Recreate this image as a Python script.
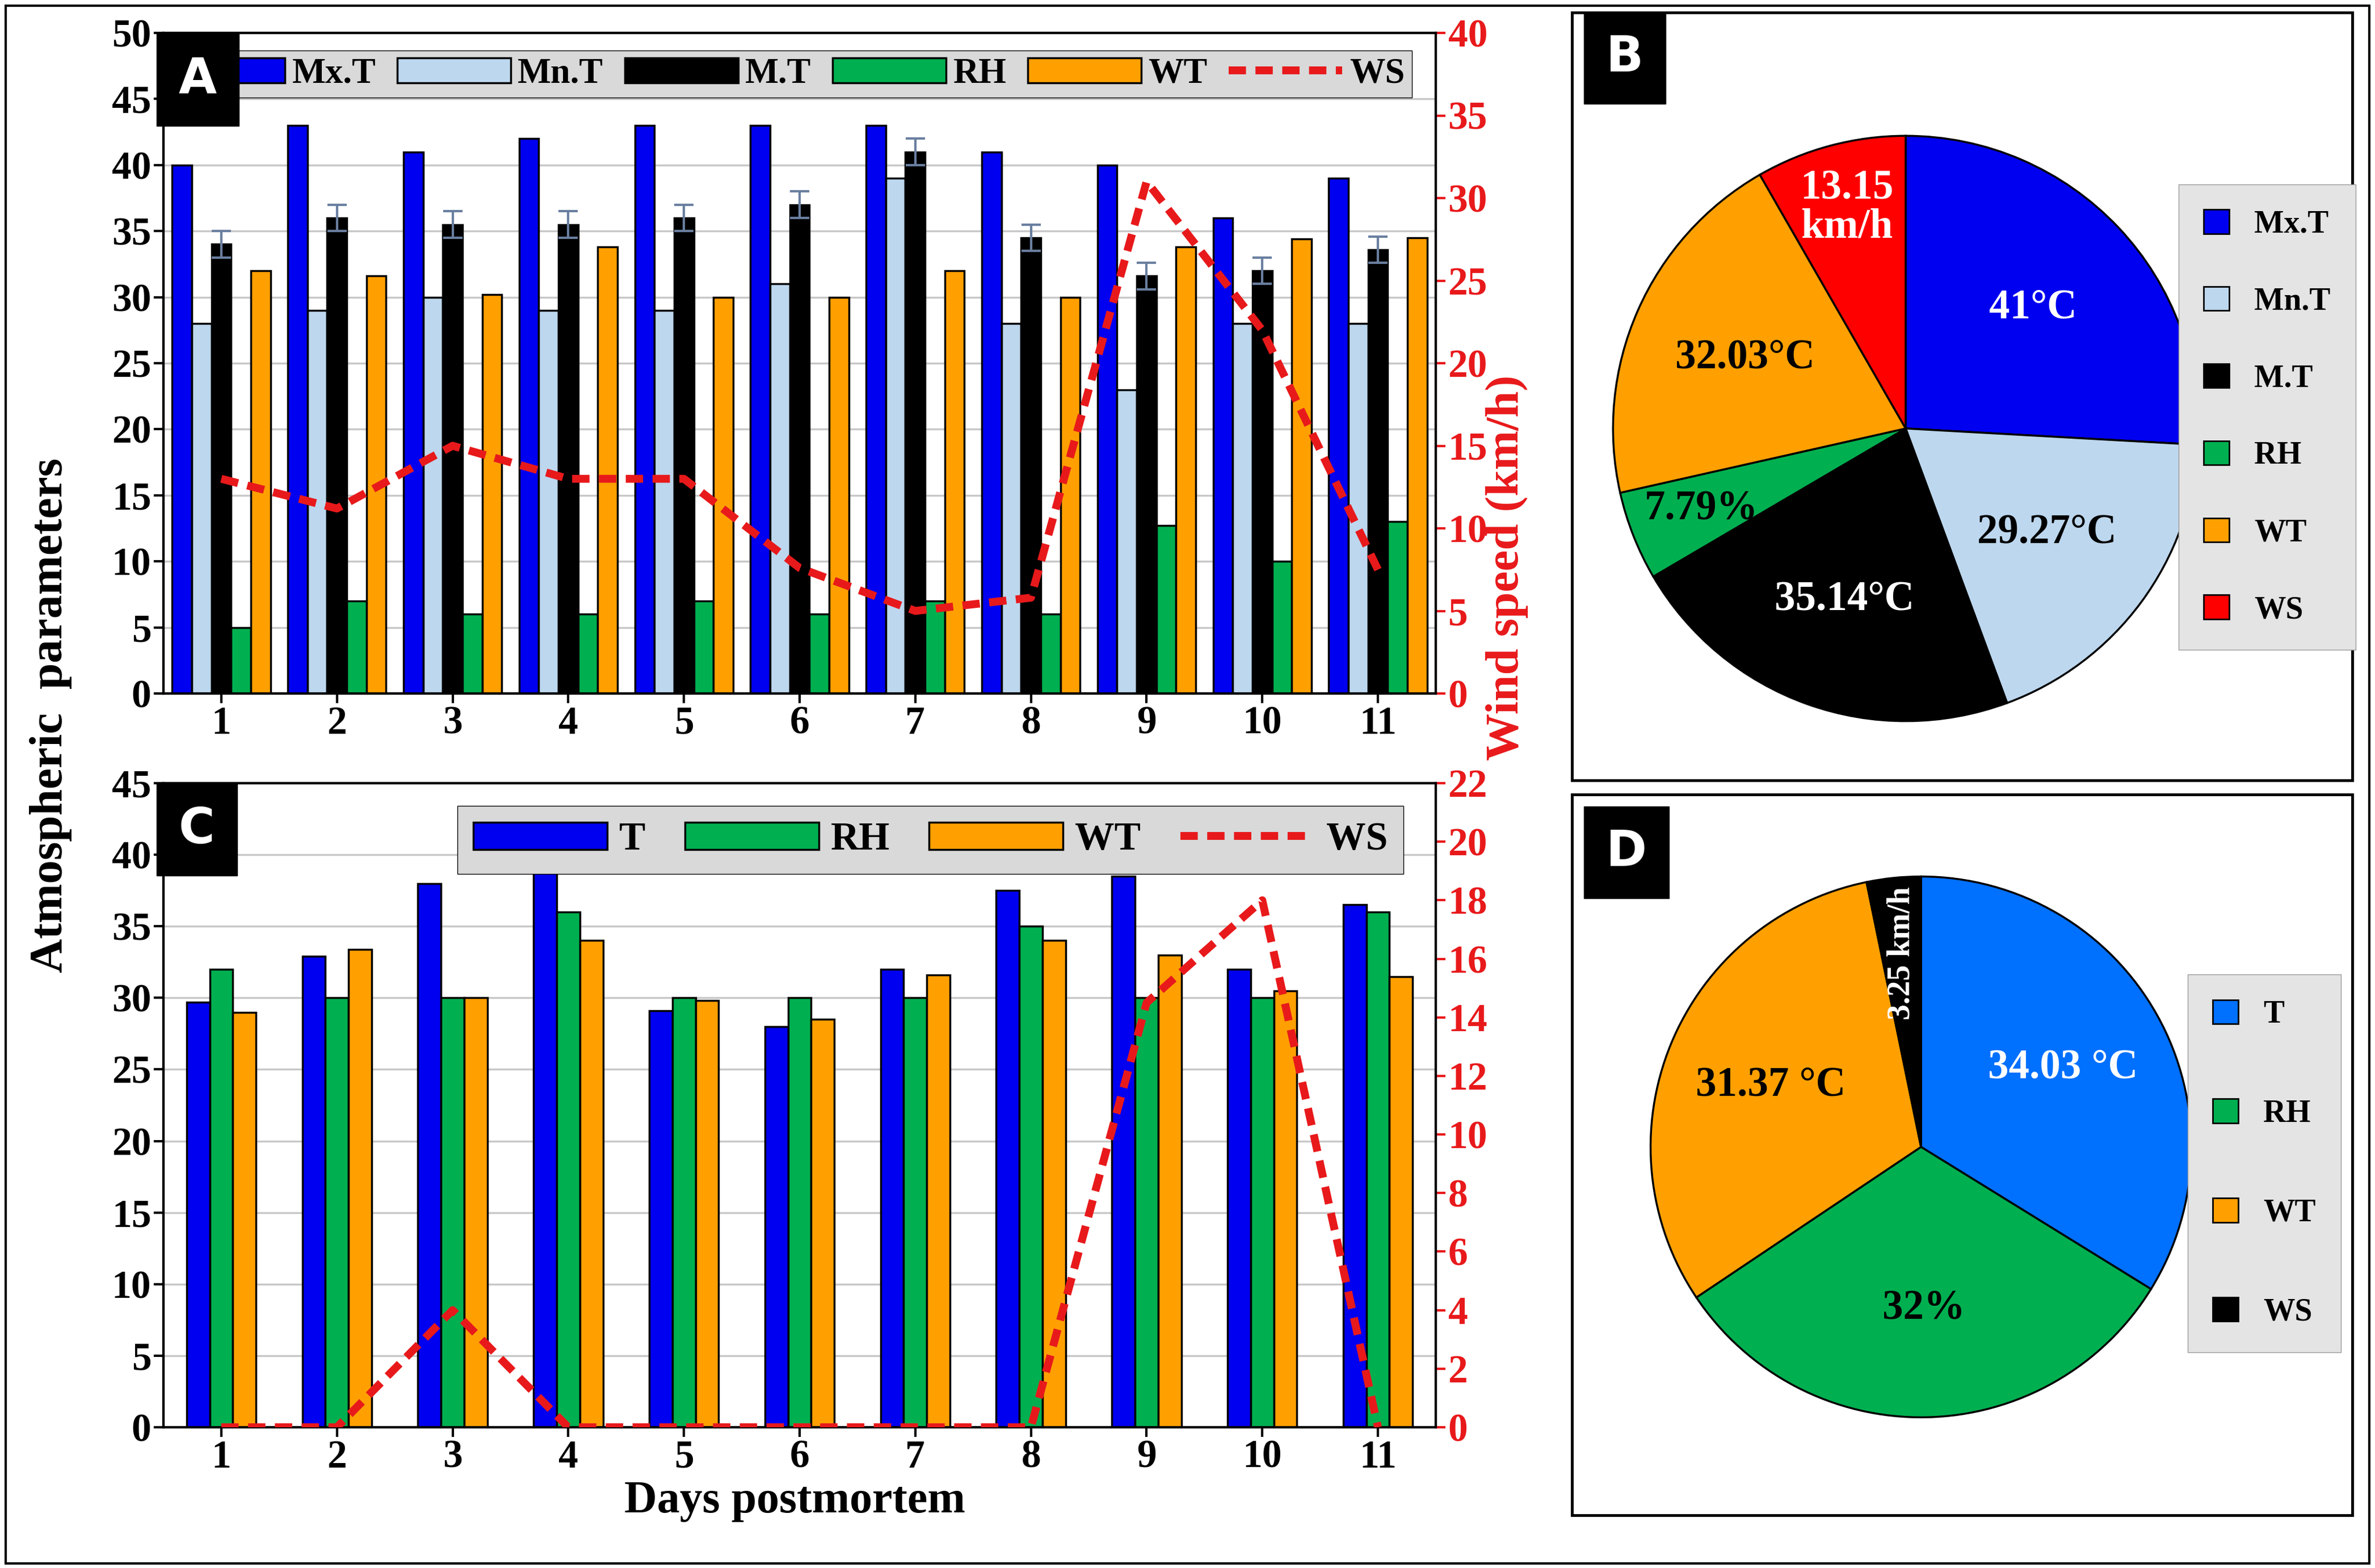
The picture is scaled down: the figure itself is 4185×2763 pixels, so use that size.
import numpy as np, pandas as pd, seaborn as sns, matplotlib
matplotlib.use("Agg")
import matplotlib.pyplot as plt
from matplotlib.patches import Rectangle

days = [str(i) for i in range(1, 12)]
mx_t = [40, 43, 41, 42, 43, 43, 43, 41, 40, 36, 39]
mn_t = [28, 29, 30, 29, 29, 31, 39, 28, 23, 28, 28]
m_t = [34, 36, 35.5, 35.5, 36, 37, 41, 34.5, 31.6, 32, 33.6]
m_t_err = [1, 1, 1, 1, 1, 1, 1, 1, 1, 1, 1]
rh_a = [5, 7, 6, 6, 7, 6, 7, 6, 12.7, 10, 13]
wt_a = [32, 31.6, 30.2, 33.8, 30, 30, 32, 30, 33.8, 34.4, 34.5]
ws_a = [13, 11.2, 15, 13, 13, 7.6, 5, 5.8, 31, 22, 7.5]

t_c = [29.7, 32.9, 38, 40, 29.1, 28, 32, 37.5, 38.5, 32, 36.5]
rh_c = [32, 30, 30, 36, 30, 30, 30, 35, 30, 30, 36]
wt_c = [29, 33.4, 30, 34, 29.8, 28.5, 31.6, 34, 33, 30.5, 31.5]
ws_c = [0, 0, 4, 0, 0, 0, 0, 0, 14.5, 18, 0]

pie_b_labels = ["Mx.T", "Mn.T", "M.T", "RH", "WT", "WS"]
pie_b_vals = [41, 29.27, 35.14, 7.79, 32.03, 13.15]
pie_b_text = ["41°C", "29.27°C", "35.14°C", "7.79%", "32.03°C", "13.15\nkm/h"]
pie_d_labels = ["T", "RH", "WT", "WS"]
pie_d_vals = [34.03, 32, 31.37, 3.25]
pie_d_text = ["34.03 °C", "32%", "31.37 °C", "3.25 km/h"]

plt.rcParams["font.family"] = "Liberation Serif"
plt.rcParams["font.weight"] = "bold"
W, H = 4185, 2763
fig = plt.figure(figsize=(W/100, H/100), dpi=100)
FS = 50
RED = "#E8191B"

def fx(px): return px / W
def fy(py): return 1 - py / H

def bars(ax, series, names, colors, width):
    rows = []
    for n, s in zip(names, series):
        for d, v in zip(days, s):
            rows.append({"day": d, "var": n, "val": v})
    df = pd.DataFrame(rows)
    sns.barplot(data=df, x="day", y="val", hue="var", hue_order=names, palette=colors,
                ax=ax, width=width, edgecolor="black", linewidth=2.5, errorbar=None,
                saturation=1, legend=False, zorder=3)
    ax.set_xlabel(""); ax.set_ylabel("")
    ax.yaxis.grid(True, color="#C8C8C8", lw=2.5, zorder=0)
    ax.set_axisbelow(True)
    ax.tick_params(labelsize=FS, width=3, length=12)
    for sp in ax.spines.values(): sp.set_linewidth(3)
    return df

# Panel A
axA = fig.add_axes([fx(288), fy(1222), fx(2530-288), fy(58)-fy(1222)])
namesA = ["Mx.T", "Mn.T", "M.T", "RH", "WT"]
colA = ["#0000F0", "#BDD7EE", "#000000", "#00B050", "#FFA000"]
bars(axA, [mx_t, mn_t, m_t, rh_a, wt_a], namesA, colA, 0.85)
axA.set_ylim(0, 50); axA.set_yticks(range(0, 51, 5))
mt_patches = axA.patches[22:33]
xs = [p.get_x() + p.get_width()/2 for p in mt_patches]
axA.errorbar(xs, m_t, yerr=m_t_err, fmt="none", ecolor="#6A7FA0", elinewidth=3, capsize=12, capthick=3, zorder=4)
axA2 = axA.twinx()
sns.lineplot(x=np.arange(11), y=ws_a, ax=axA2, color=RED, lw=10, dashes=(2.2, 1.2), zorder=5)
axA2.set_ylim(0, 40); axA2.set_yticks(range(0, 41, 5))
axA2.tick_params(labelsize=FS, colors=RED, width=3, length=12)
for t in axA2.get_yticklabels(): t.set_color(RED)
for sp in axA2.spines.values(): sp.set_linewidth(3)
axA.set_xlim(-0.5, 10.5)
hA = [Rectangle((0, 0), 1, 1, fc=c, ec="black", lw=2.5) for c in colA] + \
     [plt.Line2D([], [], color=RED, lw=10, dashes=(2.2, 1.2))]
axA2.legend(hA, namesA + ["WS"], ncol=6, loc="upper right", bbox_to_anchor=(0.995, 1.0),
            fontsize=FS*0.9, frameon=True, facecolor="#D9D9D9", edgecolor="black", framealpha=1,
            handlelength=3.2, columnspacing=0.6, handletextpad=0.2, borderpad=0.2, fancybox=False)

# Panel C
axC = fig.add_axes([fx(288), fy(2515), fx(2530-288), fy(1380)-fy(2515)])
namesC = ["T", "RH", "WT"]
colC = ["#0000F0", "#00B050", "#FFA000"]
bars(axC, [t_c, rh_c, wt_c], namesC, colC, 0.6)
axC.set_ylim(0, 45); axC.set_yticks(range(0, 46, 5))
axC2 = axC.twinx()
sns.lineplot(x=np.arange(11), y=ws_c, ax=axC2, color=RED, lw=10, dashes=(2.2, 1.2), zorder=5)
axC2.set_ylim(0, 22); axC2.set_yticks(range(0, 23, 2))
axC2.tick_params(labelsize=FS, colors=RED, width=3, length=12)
for t in axC2.get_yticklabels(): t.set_color(RED)
for sp in axC2.spines.values(): sp.set_linewidth(3)
axC.set_xlim(-0.5, 10.5)
hC = [Rectangle((0, 0), 1, 1, fc=c, ec="black", lw=2.5) for c in colC] + \
     [plt.Line2D([], [], color=RED, lw=10, dashes=(2.2, 1.2))]
axC2.legend(hC, namesC + ["WS"], ncol=4, loc="upper right", bbox_to_anchor=(0.99, 0.995),
            fontsize=FS*1.0, frameon=True, facecolor="#D9D9D9", edgecolor="black", framealpha=1,
            handlelength=3.4, columnspacing=1.0, handletextpad=0.3, borderpad=0.4, fancybox=False)

for ax, letter in [(axA2, "A"), (axC2, "C")]:
    ax.text(0.012, 0.965, letter, transform=ax.transAxes, ha="left", va="top", color="white",
            fontsize=FS*1.25, family="DejaVu Sans", fontweight="bold", zorder=10,
            bbox=dict(boxstyle="square,pad=0.45", fc="black", ec="black"))

fig.text(fx(90), fy(1260), "Atmospheric  parameters", rotation=90, ha="center", va="center", fontsize=FS*1.2)
fig.text(fx(2655), fy(1000), "Wind speed (km/h)", rotation=90, ha="center", va="center", fontsize=FS*1.2, color=RED)
fig.text(fx(1400), fy(2645), "Days postmortem", ha="center", va="center", fontsize=FS*1.15)

fig.add_artist(Rectangle((fx(10), fy(2755)), fx(4165), fy(10)-fy(2755), transform=fig.transFigure, fill=False, lw=3, ec="black"))
for (x0, y0, x1, y1) in [(2770, 22, 4145, 1375), (2770, 1400, 4145, 2670)]:
    fig.add_artist(Rectangle((fx(x0), fy(y1)), fx(x1-x0), fy(y0)-fy(y1), transform=fig.transFigure, fill=False, lw=3.5, ec="black"))

def pie(cx, cy, r, vals, colors, texts, tcolors, labels, lbox, rot=None, dists=None, lsp=1.6):
    ax = fig.add_axes([fx(cx-r), fy(cy+r), fx(2*r), fy(cy-r)-fy(cy+r)])
    wedges, _ = ax.pie(vals, colors=colors, startangle=90, counterclock=False,
                       wedgeprops=dict(edgecolor="black", linewidth=2.5), radius=1)
    ax.set_xlim(-1.02, 1.02); ax.set_ylim(-1.02, 1.02)
    for i, w in enumerate(wedges):
        ang = np.deg2rad((w.theta1 + w.theta2) / 2)
        d = dists[i] if dists else 0.6
        ax.text(d*np.cos(ang), d*np.sin(ang), texts[i], ha="center", va="center", color=tcolors[i],
                fontsize=FS*1.05 if not rot or rot[i] == 0 else FS*0.8,
                rotation=(rot[i] if rot else 0), linespacing=1.0)
    hs = [Rectangle((0, 0), 1, 1, fc=c, ec="black", lw=2) for c in colors]
    fig.legend(hs, labels, loc="center", bbox_to_anchor=lbox, fontsize=FS*0.8,
               frameon=True, facecolor="#E4E4E4", edgecolor="#999999", framealpha=1,
               handlelength=0.8, handleheight=0.8, labelspacing=lsp, borderpad=0.8, fancybox=False)
    return ax

colB = ["#0000F0", "#BDD7EE", "#000000", "#00B050", "#FFA000", "#FF0000"]
pie(3358, 755, 526, pie_b_vals, colB, pie_b_text,
    ["white", "black", "white", "black", "black", "white"], pie_b_labels,
    (fx(3995), fy(735)), dists=[0.6, 0.6, 0.62, 0.75, 0.6, 0.78], lsp=1.5)
colD = ["#0070FF", "#00B050", "#FFA000", "#000000"]
pie(3385, 2021, 486, pie_d_vals, colD, pie_d_text,
    ["white", "black", "black", "white"], pie_d_labels,
    (fx(3990), fy(2050)), rot=[0, 0, 0, 90], dists=[0.6, 0.6, 0.6, 0.72], lsp=2.2)

for (px, py, letter) in [(2830, 60, "B"), (2830, 1460, "D")]:
    fig.text(fx(px), fy(py), letter, ha="left", va="top", color="white", fontsize=FS*1.25,
             family="DejaVu Sans", fontweight="bold",
             bbox=dict(boxstyle="square,pad=0.45", fc="black", ec="black"))

fig.savefig("out.png", dpi=100)
